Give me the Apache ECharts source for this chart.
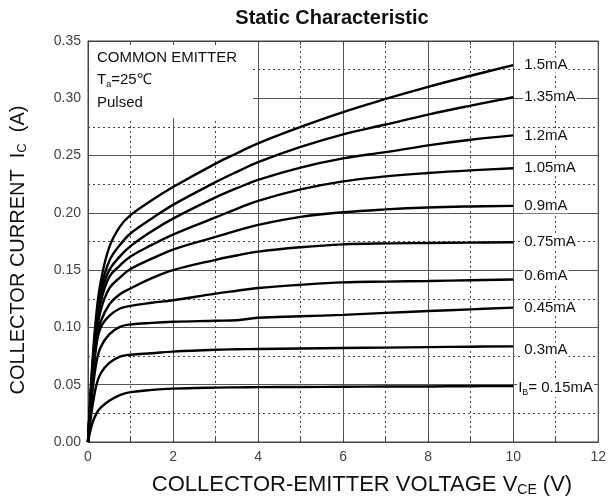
<!DOCTYPE html>
<html>
<head>
<meta charset="utf-8">
<script src="https://cdn.jsdelivr.net/npm/echarts@6/dist/echarts.min.js"></script>
<style>
  html, body { margin: 0; padding: 0; background: #fff; }
  #chart { width: 609px; height: 502px; }
</style>
</head>
<body>
<div id="chart"></div>
<script>
// base current of each curve (mA)
const baseCurrents = ['0.15', '0.3', '0.45', '0.6', '0.75', '0.9', '1.05', '1.2', '1.35', '1.5'];

// V_CE sample points (V), shared by every curve
const vce = [0, 0.1, 0.2, 0.3, 0.5, 0.75, 1, 1.5, 2, 3, 3.5, 4, 5, 6, 7, 8, 9, 10];

// I_C (A)
const ic015 = [0, 0.016, 0.025, 0.03, 0.036, 0.041, 0.0435, 0.0455, 0.0466, 0.0475, 0.0477, 0.0479, 0.048, 0.0482, 0.0484, 0.0485, 0.0487, 0.0488];
const ic030 = [0, 0.03, 0.05, 0.06, 0.069, 0.0745, 0.0762, 0.0775, 0.0789, 0.0805, 0.0809, 0.0812, 0.0816, 0.082, 0.0824, 0.0828, 0.0832, 0.0835];
const ic045 = [0, 0.042, 0.07, 0.083, 0.094, 0.1005, 0.1026, 0.104, 0.1049, 0.1058, 0.1063, 0.1085, 0.1097, 0.111, 0.1127, 0.1143, 0.1158, 0.1173];
const ic060 = [0, 0.05, 0.085, 0.1, 0.11, 0.1165, 0.1188, 0.1215, 0.1237, 0.1295, 0.132, 0.1344, 0.1372, 0.1393, 0.14, 0.1405, 0.1412, 0.1418];
const ic075 = [0, 0.053, 0.088, 0.105, 0.12, 0.129, 0.134, 0.143, 0.15, 0.159, 0.1628, 0.1662, 0.17, 0.1725, 0.1734, 0.1737, 0.174, 0.1743];
const ic090 = [0, 0.055, 0.092, 0.115, 0.134, 0.1435, 0.151, 0.16, 0.168, 0.179, 0.1845, 0.1895, 0.1965, 0.2005, 0.203, 0.2047, 0.2056, 0.2061];
const ic105 = [0, 0.058, 0.098, 0.122, 0.144, 0.154, 0.162, 0.172, 0.181, 0.196, 0.2035, 0.2105, 0.2205, 0.2275, 0.2318, 0.2348, 0.2371, 0.2389];
const ic120 = [0, 0.06, 0.102, 0.128, 0.15, 0.162, 0.171, 0.184, 0.195, 0.2135, 0.2215, 0.2288, 0.2395, 0.2475, 0.253, 0.2589, 0.2638, 0.2676];
const ic135 = [0, 0.063, 0.107, 0.133, 0.158, 0.172, 0.182, 0.195, 0.207, 0.2268, 0.2358, 0.2442, 0.2575, 0.2685, 0.2771, 0.2858, 0.2936, 0.3009];
const ic150 = [0, 0.068, 0.113, 0.14, 0.17, 0.188, 0.198, 0.211, 0.2225, 0.243, 0.252, 0.2607, 0.275, 0.288, 0.2994, 0.31, 0.3197, 0.329];

const curves = [ic015, ic030, ic045, ic060, ic075, ic090, ic105, ic120, ic135, ic150];

const FONT = '"Liberation Sans", Arial, sans-serif';
const chart = echarts.init(document.getElementById('chart'));

// small vertical nudges so the end labels sit where the reference has them
const labelNudge = { '0.6': [0, -4], '0.3': [0, 4], '0.15': [0, 2] };

const seriesArr = baseCurrents.map(function (ib, i) {
  const s = {
    name: ib,
    type: 'line',
    data: vce.map((v, k) => [v, curves[i][k]]),
    smooth: 0.4,
    showSymbol: false,
    silent: true,
    lineStyle: { color: '#000', width: 2.4 },
    endLabel: {
      show: true,
      distance: ib === '0.15' ? 4 : 10,
      offset: labelNudge[ib] || [0, 0],
      color: '#111',
      fontSize: 15,
      fontFamily: FONT,
      backgroundColor: '#fff',
      padding: [0, 1],
      formatter: ib === '0.15' ? '{n|I}{s|B}{n|= 0.15mA}' : ib + 'mA',
      rich: {
        n: { fontSize: 15, fontFamily: FONT, color: '#111' },
        s: { fontSize: 9, fontFamily: FONT, color: '#111', padding: [9, 0, 0, 0] }
      }
    }
  };
  if (ib === '1.5') {
    // white box behind the test-condition note
    s.markArea = {
      silent: true,
      itemStyle: { color: '#fff' },
      data: [[{ coord: [0.03, 0.3465] }, { coord: [3.88, 0.2825] }]]
    };
  }
  return s;
});

const option = {
  animation: false,
  backgroundColor: '#fff',
  grid: {
    left: 88, right: 7, top: 41, bottom: 60,
    show: true, borderColor: '#444', borderWidth: 1
  },
  xAxis: [{
    type: 'value',
    min: 0, max: 12, interval: 2,
    axisLine: { show: true, lineStyle: { color: '#444' } },
    axisTick: { show: true, inside: true, length: 4, lineStyle: { color: '#444' } },
    minorTick: { show: true, splitNumber: 2, length: 4, lineStyle: { color: '#444' } },
    axisLabel: { fontSize: 14, color: '#444', fontFamily: FONT, margin: 8 },
    splitLine: { show: true, lineStyle: { color: '#555', width: 1 } },
    minorSplitLine: { show: true, lineStyle: { color: '#444', type: [2, 3], width: 1 } }
  }, {
    type: 'value',
    position: 'top',
    min: 0, max: 12, interval: 2,
    z: 5,
    axisLine: { show: true, lineStyle: { color: '#444' } },
    axisTick: { show: true, inside: true, length: 4, lineStyle: { color: '#444' } },
    minorTick: { show: true, splitNumber: 2, length: 4, lineStyle: { color: '#444' } },
    axisLabel: { show: false },
    splitLine: { show: false }
  }],
  yAxis: {
    type: 'value',
    min: 0, max: 0.35, interval: 0.05,
    axisLine: { show: true, lineStyle: { color: '#444' } },
    axisTick: { show: false },
    axisLabel: {
      fontSize: 14, color: '#444', fontFamily: FONT, margin: 7,
      formatter: v => v.toFixed(2)
    },
    splitLine: { show: true, lineStyle: { color: '#555', width: 1 } },
    minorTick: { show: false, splitNumber: 2 },
    minorSplitLine: { show: true, lineStyle: { color: '#444', type: [2, 3], width: 1 } }
  },
  graphic: [
    {
      type: 'text', z: 100, x: 332, y: 18,
      style: { text: 'Static Characteristic', font: 'bold 20px ' + FONT, fill: '#111', align: 'center', verticalAlign: 'middle' }
    },
    {
      type: 'text', z: 100, x: 97, y: 58,
      style: { text: 'COMMON EMITTER', font: '15px ' + FONT, fill: '#111', verticalAlign: 'middle' }
    },
    {
      type: 'text', z: 100, x: 97, y: 80,
      style: {
        text: '{n|T}{s|a}{n|=25℃}', verticalAlign: 'middle',
        rich: {
          n: { fontSize: 15, fontFamily: FONT, fill: '#111' },
          s: { fontSize: 9, fontFamily: FONT, fill: '#111', padding: [9, 0, 0, 0] }
        }
      }
    },
    {
      type: 'text', z: 100, x: 97, y: 103,
      style: { text: 'Pulsed', font: '15px ' + FONT, fill: '#111', verticalAlign: 'middle' }
    },
    {
      type: 'text', z: 100, x: 362, y: 485,
      style: {
        text: '{n|COLLECTOR-EMITTER VOLTAGE V}{s|CE}{n| (V)}', align: 'center', verticalAlign: 'middle',
        rich: {
          n: { fontSize: 22, fontFamily: FONT, fill: '#111' },
          s: { fontSize: 14, fontFamily: FONT, fill: '#111', padding: [10, 0, 0, 0] }
        }
      }
    },
    {
      type: 'text', z: 100, x: 18, y: 250, rotation: Math.PI / 2,
      style: {
        text: '{n|COLLECTOR CURRENT  I}{s|C}{n|  (A)}', align: 'center', verticalAlign: 'middle',
        rich: {
          n: { fontSize: 20, fontFamily: FONT, fill: '#111' },
          s: { fontSize: 13, fontFamily: FONT, fill: '#111', padding: [9, 0, 0, 0] }
        }
      }
    }
  ],
  series: seriesArr
};

chart.setOption(option);
</script>
</body>
</html>
